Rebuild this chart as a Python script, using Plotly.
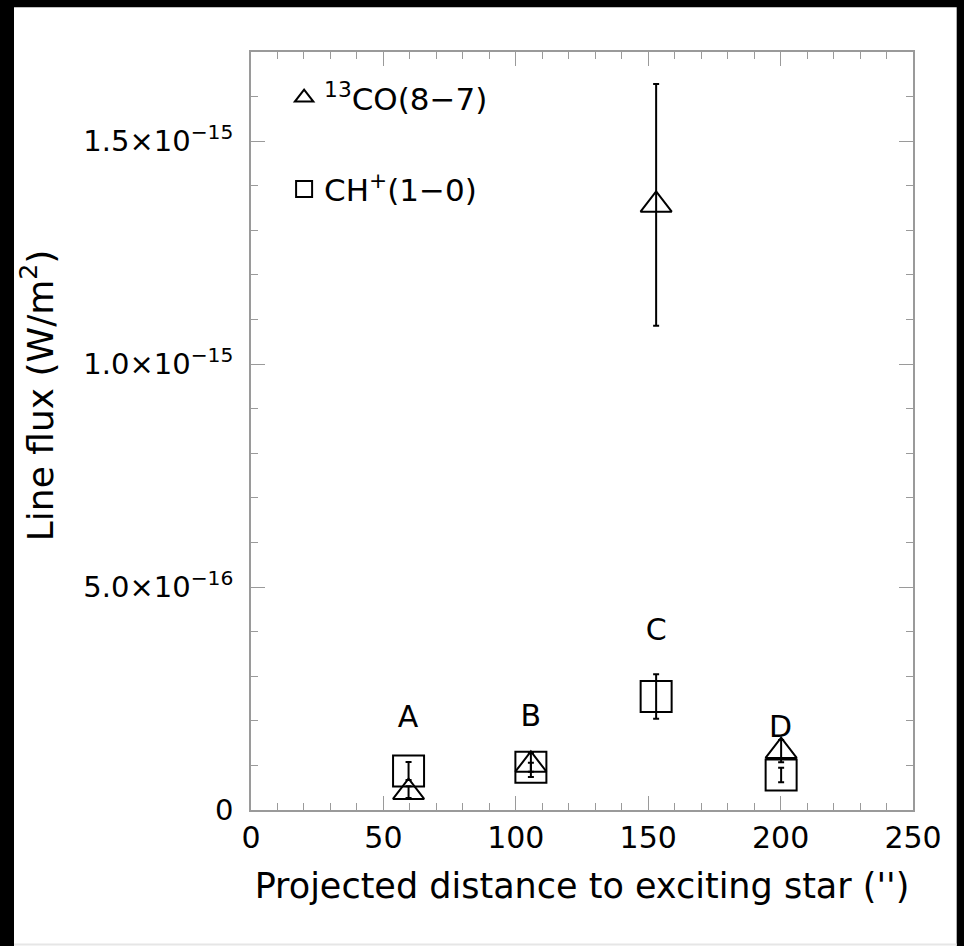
import plotly.graph_objects as go

# Projected distance (arcsec) of the four positions
dist_co = [59.5, 105.7, 153.0, 200.2]
dist_ch = [59.5, 105.7, 153.0, 200.2]

# 13CO(8-7) line fluxes and 1-sigma errors (W/m^2)
flux_co = [0.40e-16, 1.01e-16, 13.57e-16, 1.32e-16]
err_co = [0.13e-16, 0.27e-16, 2.71e-16, 0.25e-16]

# CH+(1-0) line fluxes and 1-sigma errors (W/m^2)
flux_ch = [0.875e-16, 0.96e-16, 2.545e-16, 0.785e-16]
err_ch = [0.20e-16, 0.10e-16, 0.50e-16, 0.16e-16]

# Position tags placed above each pair of points
tag_names = ["A", "B", "C", "D"]
tag_x = [59.3, 105.7, 153.0, 200.0]
tag_y = [2.02e-16, 2.05e-16, 3.98e-16, 1.80e-16]

y_tickvals = [0, 5e-16, 1e-15, 1.5e-15]
y_ticktext = ["0", "5.0×10<sup>−16</sup>", "1.0×10<sup>−15</sup>", "1.5×10<sup>−15</sup>"]
x_tickvals = [0, 50, 100, 150, 200, 250]

FONT = "DejaVu Sans"
AXIS_GREY = "#9a9a9a"

fig = go.Figure()

fig.add_trace(go.Scatter(
    x=dist_co, y=flux_co, mode="markers",
    name="<sup>13</sup>CO(8−7)", legendgroup="co",
    marker=dict(symbol="triangle-up-open", size=27, color="black",
                line=dict(color="black", width=2)),
    error_y=dict(type="data", array=err_co, visible=True,
                 color="black", thickness=2, width=3),
))

fig.add_trace(go.Scatter(
    x=dist_ch, y=flux_ch, mode="markers",
    name="CH<sup>+</sup>(1−0)", legendgroup="ch",
    marker=dict(symbol="square-open", size=31, color="black",
                line=dict(color="black", width=2)),
    error_y=dict(type="data", array=err_ch, visible=True,
                 color="black", thickness=2, width=3),
))

fig.add_trace(go.Scatter(
    x=tag_x, y=tag_y, mode="text", text=tag_names,
    textfont=dict(family=FONT, size=30, color="black"),
    showlegend=False, hoverinfo="skip",
))

axis_common = dict(
    showline=True, linecolor=AXIS_GREY, linewidth=1.5, mirror="ticks",
    ticks="inside", tickcolor=AXIS_GREY, tickwidth=1.2, ticklen=14,
    showgrid=False, zeroline=False,
)

fig.update_xaxes(
    range=[0, 250], tickvals=x_tickvals,
    tickfont=dict(family=FONT, size=30, color="black"),
    ticklabelstandoff=0,
    minor=dict(ticks="inside", dtick=10, ticklen=7, tickcolor=AXIS_GREY,
               tickwidth=1.2, showgrid=False),
    title=dict(text="Projected distance to exciting star ('')",
               font=dict(family=FONT, size=35, color="black"), standoff=20),
    **axis_common,
)

fig.update_yaxes(
    range=[0, 1.7e-15], tickvals=y_tickvals, ticktext=y_ticktext,
    tickfont=dict(family=FONT, size=29, color="black"),
    ticklabelstandoff=10,
    minor=dict(ticks="inside", dtick=1e-16, ticklen=7, tickcolor=AXIS_GREY,
               tickwidth=1.2, showgrid=False),
    **axis_common,
)

# Black frame strips on the left, top and right of the white page
strip = dict(type="rect", xref="paper", yref="paper", layer="below",
             fillcolor="black", line=dict(width=0))
shapes = [
    dict(strip, x0=-0.5, x1=-0.358, y0=-0.5, y1=1.5),
    dict(strip, x0=1.066, x1=1.5, y0=-0.5, y1=1.5),
    dict(strip, x0=-0.5, x1=1.5, y0=1.059, y1=1.5),
    # faint rule along the foot of the page
    dict(type="line", xref="paper", yref="paper", layer="above",
         x0=-0.358, x1=1.066, y0=-0.1774, y1=-0.1774,
         line=dict(color="#e6e6e6", width=2)),
]

fig.update_layout(
    width=964, height=946,
    margin=dict(l=251, r=51, t=52, b=136, autoexpand=False),
    paper_bgcolor="white", plot_bgcolor="white",
    font=dict(family=FONT, color="black"),
    showlegend=True,
    legend=dict(
        x=0.05, y=0.975, xanchor="left", yanchor="top",
        bgcolor="rgba(0,0,0,0)", borderwidth=0,
        font=dict(family=FONT, size=31, color="black"),
        traceorder="grouped", tracegroupgap=48, itemsizing="trace",
    ),
    shapes=shapes,
    annotations=[dict(
        text="Line flux (W/m<sup>2</sup>)", textangle=-90,
        xref="paper", yref="paper", x=-0.322, y=0.547,
        xanchor="center", yanchor="middle", showarrow=False,
        font=dict(family=FONT, size=36, color="black"),
    )],
)

fig.write_html("out.html")
